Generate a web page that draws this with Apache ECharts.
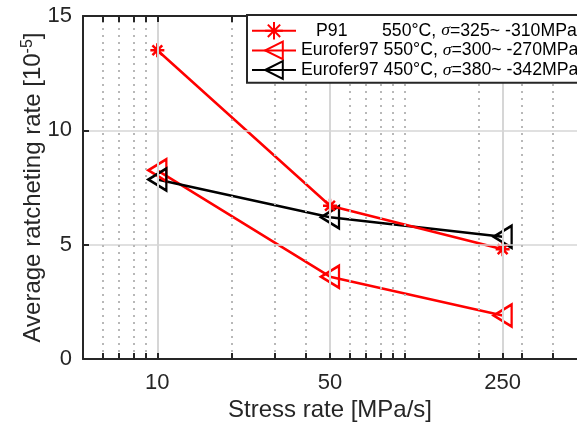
<!DOCTYPE html>
<html>
<head>
<meta charset="utf-8">
<script src="https://cdn.jsdelivr.net/npm/echarts@6/dist/echarts.min.js"></script>
<style>html,body{margin:0;padding:0;background:#fff}#c{width:577px;height:429px}</style>
</head>
<body>
<div id="c"></div>
<script>
const stressRates = [10, 50, 250];
const p91 = [13.5, 6.7, 4.8];
const euro550 = [8.25, 3.6, 1.9];
const euro450 = [7.85, 6.2, 5.35];
const xMajorTicks = [10, 50, 250];
const xMinorTicks = [6, 7, 8, 9, 20, 30, 40, 60, 70, 80, 90, 100, 200, 300, 400];
const xAllTicks = [6, 7, 8, 9, 10, 20, 30, 40, 50, 60, 70, 80, 90, 100, 200, 250, 300, 400];
const seriesNames = ['P91', 'Eurofer97 550', 'Eurofer97 450'];
const legendTexts = {
  'P91': '{p|P91}{t|550°C, }{i|σ}{t|=325~ -310MPa}',
  'Eurofer97 550': '{n|Eurofer97}{t| 550°C, }{i|σ}{t|=300~ -270MPa}',
  'Eurofer97 450': '{n|Eurofer97}{t| 450°C, }{i|σ}{t|=380~ -342MPa}'
};

const FONT = 'Liberation Sans, Arial, Helvetica, sans-serif';
const triLeft = 'path://M0,5L10,0L10,10Z';
const star = 'path://M5,0L5,10M0,5L10,5M1.5,1.5L8.5,8.5M1.5,8.5L8.5,1.5';

function pts(ys) { return stressRates.map((x, i) => [x, ys[i]]); }

const chart = echarts.init(document.getElementById('c'), null, {renderer: 'canvas'});
const axisLineStyle = {color: '#262626', width: 2};
const LF = 17.7;

const option = {
  animation: false,
  backgroundColor: '#fff',
  textStyle: {fontFamily: FONT},
  grid: {left: 83, top: 16, bottom: 70, right: -10, containLabel: false},
  xAxis: [{
    type: 'log', min: 5, max: 500, position: 'bottom', z: 5,
    name: 'Stress rate [MPa/s]', nameLocation: 'middle', nameGap: 39, nameMoveOverlap: false,
    nameTextStyle: {fontSize: 24, color: '#262626', fontFamily: FONT},
    axisLine: {show: true, onZero: false, lineStyle: axisLineStyle},
    axisTick: {show: true, inside: true, length: 6, customValues: xAllTicks, lineStyle: {color: '#262626', width: 2}},
    axisLabel: {show: true, customValues: xMajorTicks, fontSize: 22, color: '#262626', margin: 13, fontFamily: FONT,
      formatter: v => String(Math.round(v))},
    splitLine: {show: false},
    minorTick: {show: false}, minorSplitLine: {show: false}
  }, {
    type: 'log', min: 5, max: 500, position: 'top', z: 5,
    axisLine: {show: true, onZero: false, lineStyle: axisLineStyle},
    axisTick: {show: true, inside: true, length: 6, customValues: xAllTicks, lineStyle: {color: '#262626', width: 2}},
    axisLabel: {show: false},
    splitLine: {show: false}
  }],
  yAxis: [{
    type: 'value', min: 0, max: 15, interval: 5, z: 5,
    name: '{t|Average ratcheting rate [10}{s|-5}{t|]}', nameLocation: 'middle', nameGap: 37, nameMoveOverlap: false,
    nameTextStyle: {fontFamily: FONT, rich: {t: {fontSize: 24, color: '#262626', fontFamily: FONT}, s: {fontSize: 16, color: '#262626', verticalAlign: 'top', fontFamily: FONT, padding: [0,0,10,0]}}},
    axisLine: {show: true, onZero: false, lineStyle: axisLineStyle},
    axisTick: {show: true, inside: true, length: 6, lineStyle: {color: '#262626', width: 2}},
    axisLabel: {fontSize: 22, color: '#262626', margin: 11, fontFamily: FONT},
    splitLine: {show: true, lineStyle: {color: '#d6d6d6', width: 1.5}}
  }],
  legend: {
    data: seriesNames, orient: 'vertical', left: 247, top: 15, z: 20,
    backgroundColor: '#fff', borderColor: '#262626', borderWidth: 2,
    padding: [6, 0, 3, 4], itemWidth: 44, itemHeight: 22, itemGap: 0,
    formatter: n => legendTexts[n],
    textStyle: {fontSize: LF, color: '#000', fontFamily: FONT,
      rich: {
        p: {fontSize: LF, fontFamily: FONT, width: 66, padding: [0, 0, 0, 15]},
        n: {fontSize: LF, fontFamily: FONT},
        t: {fontSize: LF, fontFamily: FONT},
        i: {fontSize: LF, fontFamily: 'Liberation Serif, Times New Roman, serif', fontStyle: 'italic'}
      }}
  },
  series: [
    {
      name: 'minorgrid', type: 'line', data: [], z: 1, silent: true,
      markLine: {
        silent: true, symbol: ['none', 'none'], label: {show: false}, animation: false,
        lineStyle: {color: '#b8b8b8', width: 2, type: [2, 5]},
        data: xMinorTicks.map(v => ({xAxis: v}))
      }
    },
    {
      name: 'majorgrid', type: 'line', data: [], z: 1, silent: true,
      markLine: {
        silent: true, symbol: ['none', 'none'], label: {show: false}, animation: false,
        lineStyle: {color: '#d6d6d6', width: 2, type: 'solid'},
        data: xMajorTicks.map(v => ({xAxis: v}))
      }
    },
    {
      name: 'P91', type: 'line', data: pts(p91), z: 4,
      symbol: star, symbolSize: 14,
      lineStyle: {color: '#ff0000', width: 2.5},
      itemStyle: {color: 'rgba(0,0,0,0)', borderColor: '#ff0000', borderWidth: 2.5}
    },
    {
      name: 'Eurofer97 550', type: 'line', data: pts(euro550), z: 3,
      symbol: triLeft, symbolSize: [18, 22],
      lineStyle: {color: '#ff0000', width: 2.5},
      itemStyle: {color: 'rgba(0,0,0,0)', borderColor: '#ff0000', borderWidth: 2.5}
    },
    {
      name: 'Eurofer97 450', type: 'line', data: pts(euro450), z: 3,
      symbol: triLeft, symbolSize: [18, 22],
      lineStyle: {color: '#000000', width: 2.5},
      itemStyle: {color: 'rgba(0,0,0,0)', borderColor: '#000000', borderWidth: 2.5}
    }
  ]
};
chart.setOption(option);
</script>
</body>
</html>
